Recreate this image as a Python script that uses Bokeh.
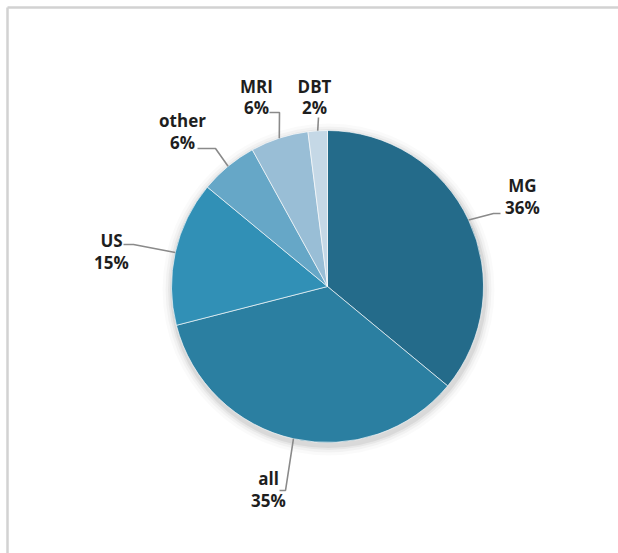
import math
from bokeh.plotting import figure
from bokeh.models import Range1d, ColumnDataSource
from bokeh.core.properties import value
from bokeh.embed import file_html
from bokeh.resources import INLINE

# ---- data ----
categories = ["MG", "all", "US", "other", "MRI", "DBT"]
percents = [36, 35, 15, 6, 6, 2]
colors = ["#246B8A", "#2B7FA1", "#3190B6", "#66A7C7", "#99BED6", "#C5D8E6"]

# ---- layout (pixel positions, y measured from the top) ----
W, H = 618, 553
CX, CY, R = 327, 286, 156
FONT = "Open Sans"
# label centre x, name-line y, percent-line y
label_pos = {
    "MG": (522, 185, 207),
    "all": (268, 478, 500),
    "US": (111, 240, 262),
    "other": (182, 120, 142),
    "MRI": (256, 86, 107),
    "DBT": (314, 86, 107),
}
# leader elbow points (from pie edge outwards)
leader_pts = {
    "MG": [(493, 213), (500, 213)],
    "all": [(285, 490), (279, 490)],
    "US": [(133, 244), (123, 244)],
    "other": [(215, 148), (197, 148)],
    "MRI": [(279, 112), (269, 112)],
    "DBT": [(318, 117)],
}

def fy(py):
    return H - py

total = sum(percents)
starts, ends, mids = [], [], []
cum = 0.0
for v in percents:
    a0 = math.pi / 2 - 2 * math.pi * cum / total
    cum += v
    a1 = math.pi / 2 - 2 * math.pi * cum / total
    starts.append(a1)
    ends.append(a0)
    mids.append((a0 + a1) / 2)

src = ColumnDataSource(dict(cat=categories, val=percents, color=colors,
                            start=starts, end=ends))

p = figure(width=W, height=H, x_range=Range1d(0, W), y_range=Range1d(0, H),
           output_backend="svg", toolbar_location=None, min_border=0,
           background_fill_color="white", border_fill_color="white")
p.axis.visible = False
p.grid.visible = False
p.outline_line_color = None

# frame (left + top)
p.line([7, 7], [0, fy(7)], line_color="#d2d2d2", line_width=2.5)
p.line([7, W], [fy(7), fy(7)], line_color="#d2d2d2", line_width=2.5)

# soft shadow
for dr, al in [(10, 0.02), (7, 0.03), (4.5, 0.045), (2.5, 0.06)]:
    p.circle(x=CX + 1, y=fy(CY + 3), radius=R + dr, fill_color="#000000",
             fill_alpha=al, line_color=None)

p.wedge(x=CX, y=fy(CY), radius=R, start_angle="start", end_angle="end",
        direction="anticlock", fill_color="color", line_color="white",
        line_width=0.8, line_alpha=0.8, source=src)

# leader lines
xs, ys = [], []
for cat, m in zip(categories, mids):
    ex, ey = CX + R * math.cos(m), fy(CY) + R * math.sin(m)
    px = [ex] + [pt[0] for pt in leader_pts[cat]]
    py = [ey] + [fy(pt[1]) for pt in leader_pts[cat]]
    xs.append(px)
    ys.append(py)
p.multi_line(xs, ys, line_color="#8a8a8a", line_width=1.6)

# labels
lx, ly, lt = [], [], []
for cat, v in zip(categories, percents):
    x0, y1, y2 = label_pos[cat]
    lx += [x0, x0]
    ly += [fy(y1), fy(y2)]
    lt += [cat, f"{v}%"]
p.text(x=lx, y=ly, text=lt, text_font=value(FONT), text_font_style="bold",
       text_font_size="17px", text_color="#1e1e1e", text_align="center",
       text_baseline="middle")

open("out.html", "w").write(file_html(p, INLINE))
